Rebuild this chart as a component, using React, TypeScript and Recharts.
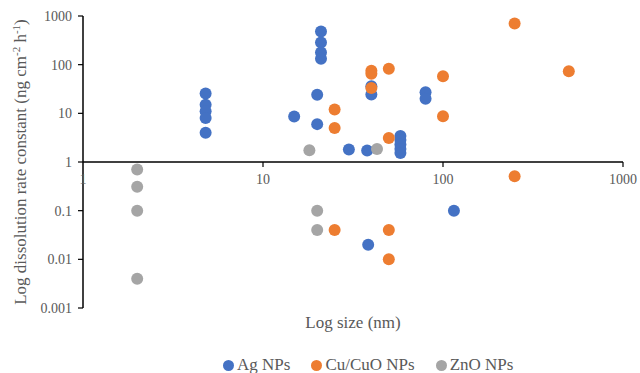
import React from 'react';
import { ScatterChart, Scatter, XAxis, YAxis, ReferenceLine } from 'recharts';

// Ag NPs
const agSize = [4.8, 4.8, 4.8, 4.8, 4.8, 14.9, 20, 20, 21, 21, 21, 21, 30, 37.9, 40, 40, 58, 58, 58, 58, 58, 80, 80, 115, 38.4];
const agRate = [25.5, 15, 11, 8, 4, 8.6, 24, 6, 480, 284, 177, 133, 1.8, 1.72, 36, 24.3, 3.42, 2.83, 2.29, 1.85, 1.53, 27, 20, 0.1, 0.02];

// Cu/CuO NPs
const cuSize = [250, 500, 100, 100, 50, 40, 40, 40, 25, 25, 50, 250, 25, 50, 50];
const cuRate = [700, 73, 58, 8.7, 82, 75, 65, 33, 12, 5, 3.1, 0.51, 0.04, 0.04, 0.01];

// ZnO NPs
const znSize = [2, 2, 2, 2, 18.1, 20, 20, 43];
const znRate = [0.7, 0.31, 0.1, 0.004, 1.75, 0.1, 0.04, 1.85];

const xTicks = [1, 10, 100, 1000];
const yTicks = [0.001, 0.01, 0.1, 1, 10, 100, 1000];

const series = [
  { name: 'Ag NPs', color: '#4472C4', x: agSize, y: agRate },
  { name: 'Cu/CuO NPs', color: '#ED7D31', x: cuSize, y: cuRate },
  { name: 'ZnO NPs', color: '#A5A5A5', x: znSize, y: znRate },
];

const FONT = '"Liberation Serif", "Times New Roman", serif';
const TEXT = '#595959';
const W = 640;
const H = 373;
const M = { top: 16, right: 17, bottom: 35, left: 0 };
const Y_AXIS_W = 83;
const X_AXIS_H = 30;
const PLOT_H = H - M.top - M.bottom - X_AXIS_H;

// x axis sits at y = 1, so the ticks are drawn up from the bottom of the plot
const XTick = (props: any) => {
  const { x, y, payload } = props;
  const ly = y - PLOT_H / 2;
  return (
    <g>
      {payload.value !== 1 && <line x1={x} x2={x} y1={ly} y2={ly + 5} stroke="#000" strokeWidth={1.2} />}
      <text x={x} y={ly + 22} textAnchor="middle" fill={TEXT} fontSize={14} fontFamily={FONT}>
        {payload.value}
      </text>
    </g>
  );
};

const Dot = (color: string) => (props: any) => (
  <circle cx={props.cx} cy={props.cy} r={6} fill={color} />
);

const App = () => {
  const tables = series.map((s) => s.x.map((v, i) => ({ size: v, rate: s.y[i] })));

  return (
    <div style={{ position: 'absolute', left: 0, top: 0, width: W, height: H, background: '#fff' }}>
      <ScatterChart width={W} height={H} margin={M}>
        <XAxis
          dataKey="size"
          type="number"
          scale="log"
          domain={[1, 1000]}
          ticks={xTicks}
          allowDataOverflow
          axisLine={false}
          tickLine={false}
          tickSize={0}
          tickMargin={0}
          height={X_AXIS_H}
          tick={<XTick />}
          label={{
            content: (p: any) => {
              const vb = p.viewBox;
              return (
                <text x={vb.x + vb.width / 2} y={vb.y + 20} textAnchor="middle" fill={TEXT} fontSize={17} fontFamily={FONT}>
                  Log size (nm)
                </text>
              );
            },
          }}
        />
        <YAxis
          dataKey="rate"
          type="number"
          scale="log"
          domain={[0.001, 1000]}
          ticks={yTicks}
          allowDataOverflow
          width={Y_AXIS_W}
          axisLine={{ stroke: '#000', strokeWidth: 1.5 }}
          tickLine={{ stroke: '#000', strokeWidth: 1.2 }}
          tickSize={5}
          tickMargin={6}
          tick={{ fill: TEXT, fontSize: 14, fontFamily: FONT }}
          tickFormatter={(v: number) => String(v)}
          label={{
            content: () => (
              <text
                transform={`translate(26, ${M.top + PLOT_H / 2}) rotate(-90)`}
                textAnchor="middle"
                fill={TEXT}
                fontSize={17}
                fontFamily={FONT}
              >
                Log dissolution rate constant (ng cm
                <tspan dy={-6} fontSize={11}>-2</tspan>
                <tspan dy={6}> h</tspan>
                <tspan dy={-6} fontSize={11}>-1</tspan>
                <tspan dy={6}>)</tspan>
              </text>
            ),
          }}
        />
        <ReferenceLine y={1} stroke="#000" strokeWidth={1.5} ifOverflow="extendDomain" />
        {series.map((s, i) => (
          <Scatter
            key={s.name}
            name={s.name}
            data={tables[i]}
            fill={s.color}
            shape={Dot(s.color)}
            isAnimationActive={false}
          />
        ))}
      </ScatterChart>
      <div
        style={{
          position: 'absolute',
          left: 223,
          top: 355,
          display: 'flex',
          alignItems: 'center',
          fontFamily: FONT,
          fontSize: 17,
          color: TEXT,
          lineHeight: '20px',
          whiteSpace: 'nowrap',
        }}
      >
        {series.map((s) => (
          <div key={s.name} style={{ display: 'flex', alignItems: 'center', marginRight: 21 }}>
            <span
              style={{ width: 11, height: 11, borderRadius: '50%', background: s.color, display: 'inline-block', marginRight: 3 }}
            />
            <span>{s.name}</span>
          </div>
        ))}
      </div>
    </div>
  );
};

export default App;
